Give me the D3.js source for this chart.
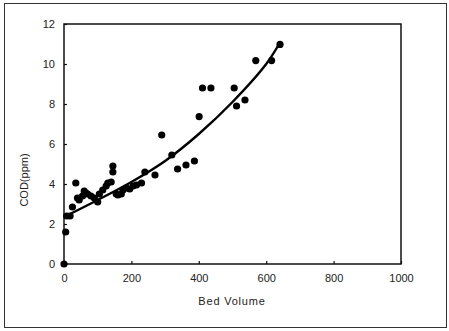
<!DOCTYPE html>
<html>
<head>
<meta charset="utf-8">
<script src="https://cdn.jsdelivr.net/npm/d3@7"></script>
<style>
  body { margin: 0; background: #fff; }
  text { font-family: "Liberation Sans", Arial, sans-serif; fill: #222; }
</style>
</head>
<body>
<svg id="chart" width="449" height="331"></svg>
<script>
// measured points (bed volume, COD ppm)
const bedVolume = [0, 5, 8, 18, 25, 35, 40, 45, 55, 60, 65, 70, 80, 90, 100, 105, 115, 125, 130, 140,
  145, 145, 155, 160, 170, 175, 185, 195, 205, 215, 230, 240, 270, 290, 320, 337, 362, 387, 401,
  411, 436, 505, 512, 537, 569, 616, 641];
const cod = [0, 1.6, 2.4, 2.4, 2.85, 4.05, 3.3, 3.2, 3.4, 3.65, 3.55, 3.5, 3.4, 3.3, 3.1, 3.5, 3.7, 3.9, 4.05, 4.1,
  4.6, 4.9, 3.5, 3.45, 3.5, 3.7, 3.8, 3.75, 3.9, 3.95, 4.05, 4.6, 4.45, 6.45, 5.45, 4.75, 4.95, 5.15, 7.37,
  8.8, 8.8, 8.8, 7.9, 8.2, 10.17, 10.17, 10.98];

// trend curve
const fitX = [0, 100, 200, 300, 400, 500, 600, 640];
const fitY = [2.35, 3.2, 4.1, 5.15, 6.5, 8.1, 10.0, 11.05];

const xTicks = [0, 200, 400, 600, 800, 1000];
const yTicks = [0, 2, 4, 6, 8, 10, 12];

const svg = d3.select("#chart");
const margin = { left: 64, top: 24, right: 48, bottom: 67 };
const width = 449 - margin.left - margin.right;
const height = 331 - margin.top - margin.bottom;

// outer border
svg.append("rect")
  .attr("x", 4.5).attr("y", 3.5)
  .attr("width", 442).attr("height", 324)
  .attr("fill", "none").attr("stroke", "#333").attr("stroke-width", 1);

const x = d3.scaleLinear().domain([0, 1000]).range([0, width]);
const y = d3.scaleLinear().domain([0, 12]).range([height, 0]);

const g = svg.append("g").attr("transform", `translate(${margin.left},${margin.top})`);

// plot frame
g.append("rect")
  .attr("width", width).attr("height", height)
  .attr("fill", "none").attr("stroke", "#111").attr("stroke-width", 1.5);

const xAxis = g.append("g")
  .attr("transform", `translate(0,${height})`)
  .call(d3.axisBottom(x).tickValues(xTicks).tickSize(-3).tickPadding(10).tickFormat(d3.format("d")));
const yAxis = g.append("g")
  .call(d3.axisLeft(y).tickValues(yTicks).tickSize(-3).tickPadding(9).tickFormat(d3.format("d")));

[xAxis, yAxis].forEach((a) => {
  a.select(".domain").remove();
  a.selectAll("line").attr("stroke", "#111").attr("stroke-width", 1.2);
  a.selectAll("text").attr("font-size", 11).attr("font-family", "Liberation Sans, Arial, sans-serif").attr("fill", "#222");
});

// axis titles
svg.append("text")
  .attr("x", 232).attr("y", 305)
  .attr("text-anchor", "middle").attr("font-size", 11)
  .attr("letter-spacing", 0.8)
  .text("Bed Volume");

svg.append("text")
  .attr("transform", "translate(28,180) rotate(-90)")
  .attr("text-anchor", "middle").attr("font-size", 11)
  .text("COD(ppm)");

// trend curve
const fit = fitX.map((d, i) => [d, fitY[i]]);
g.append("path")
  .datum(fit)
  .attr("fill", "none").attr("stroke", "#000").attr("stroke-width", 2.4)
  .attr("d", d3.line().x((d) => x(d[0])).y((d) => y(d[1])).curve(d3.curveCatmullRom));

// scatter points
const pts = bedVolume.map((d, i) => [d, cod[i]]);
g.append("g")
  .selectAll("circle")
  .data(pts)
  .enter()
  .append("circle")
  .attr("cx", (d) => x(d[0]))
  .attr("cy", (d) => y(d[1]))
  .attr("r", 3.6)
  .attr("fill", "#000");
</script>
</body>
</html>
